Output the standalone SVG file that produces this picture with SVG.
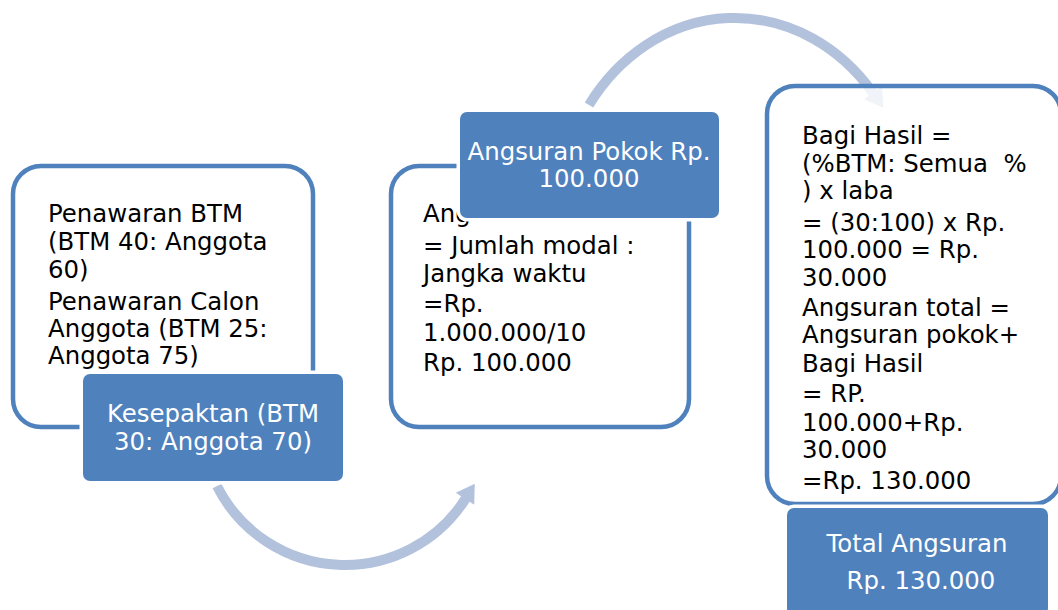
<svg xmlns="http://www.w3.org/2000/svg" width="1058" height="610" viewBox="0 0 1058 610">
<style>
.box{fill:#FFFFFF;fill-opacity:0.8;stroke:#4F81BD;stroke-width:4.5}
.tag{fill:#4F81BD;stroke:#FFFFFF;stroke-width:7;paint-order:stroke}
.arc{fill:none;stroke:#B3C2DC;stroke-width:10}
.head{fill:#B3C2DC}
text{font-family:"DejaVu Sans","Liberation Sans",sans-serif;font-size:24.4px;white-space:pre}
.dark{fill:#000000}
.light{fill:#FFFFFF;text-anchor:middle}
</style>
<rect width="1058" height="610" fill="#FFFFFF"/>
<g id="connectors">
<path class="arc" d="M 217 486 A 143 143 0 0 0 466 498"/>
<polygon class="head" points="474.8,483.7 455.8,492.8 474.2,504.8"/>
<path class="arc" d="M 589 105 A 177.5 202 0 0 1 873 93"/>
<polygon class="head" points="883.4,107.7 882,86.6 864,99.3"/>
</g>
<g id="box1">
<rect class="box" x="13" y="166" width="300" height="261" rx="28"/>
<text class="dark"><tspan x="48" y="222">Penawaran BTM</tspan><tspan x="48" y="250">(BTM 40: Anggota</tspan><tspan x="48" y="277.5">60)</tspan><tspan x="48" y="309.5">Penawaran Calon</tspan><tspan x="48" y="336.5">Anggota (BTM 25:</tspan><tspan x="48" y="363.5">Anggota 75)</tspan></text>
</g>
<g id="tag1">
<rect class="tag" x="83" y="374" width="260" height="107" rx="7"/>
<text class="light"><tspan x="213" y="421.7">Kesepaktan (BTM</tspan><tspan x="213" y="450">30: Anggota 70)</tspan></text>
</g>
<g id="box2">
<rect class="box" x="391" y="166" width="298" height="261" rx="28"/>
<text class="dark"><tspan x="423" y="222">Ang</tspan><tspan x="423" y="254">= Jumlah modal :</tspan><tspan x="423" y="281.5">Jangka waktu</tspan><tspan x="423" y="311.5">=Rp.</tspan><tspan x="423" y="340.5">1.000.000/10</tspan><tspan x="423" y="370.5">Rp. 100.000</tspan></text>
</g>
<g id="tag2">
<rect class="tag" x="460" y="112" width="259" height="106" rx="7"/>
<text class="light"><tspan x="589" y="160">Angsuran Pokok Rp.</tspan><tspan x="589" y="187.3">100.000</tspan></text>
</g>
<g id="box3">
<rect class="box" x="767" y="86" width="294" height="418" rx="28"/>
<text class="dark"><tspan x="802" y="144">Bagi Hasil =</tspan><tspan x="802" y="171.7">(%BTM: Semua  %</tspan><tspan x="802" y="198.6">) x laba</tspan><tspan x="802" y="231">= (30:100) x Rp.</tspan><tspan x="802" y="258">100.000 = Rp.</tspan><tspan x="802" y="285.6">30.000</tspan><tspan x="802" y="315.9">Angsuran total =</tspan><tspan x="802" y="342.9">Angsuran pokok+</tspan><tspan x="802" y="371.9">Bagi Hasil</tspan><tspan x="802" y="401.9">= RP.</tspan><tspan x="802" y="430.5">100.000+Rp.</tspan><tspan x="802" y="457.5">30.000</tspan><tspan x="802" y="488.5">=Rp. 130.000</tspan></text>
</g>
<g id="tag3">
<rect class="tag" x="787" y="508" width="261" height="107" rx="7"/>
<text class="light"><tspan x="917" y="552">Total Angsuran</tspan><tspan x="921" y="589">Rp. 130.000</tspan></text>
</g>
</svg>
